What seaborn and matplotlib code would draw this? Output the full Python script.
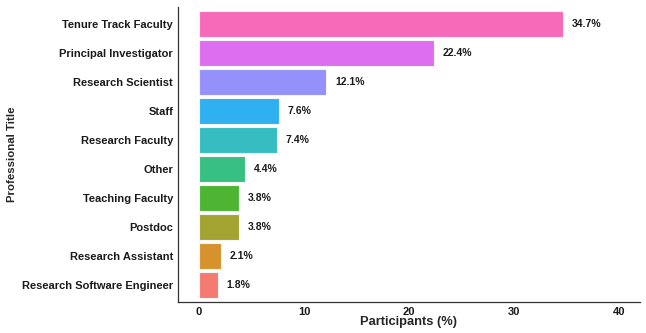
import pandas as pd
import matplotlib.pyplot as plt
import seaborn as sns

titles = ['Tenure Track Faculty', 'Principal Investigator', 'Research Scientist', 'Staff',
          'Research Faculty', 'Other', 'Teaching Faculty', 'Postdoc',
          'Research Assistant', 'Research Software Engineer']
percent = [34.7, 22.4, 12.1, 7.6, 7.4, 4.4, 3.8, 3.8, 2.1, 1.8]
# ggplot-style hue colours (slightly muted), top to bottom
colours = ['#F76AB9', '#DE6EF0', '#9490FC', '#2FB0F0', '#35BDC2',
           '#38BF82', '#4DB532', '#A3A331', '#D6922D', '#F47B72']

df = pd.DataFrame({'Title': titles, 'Percent': percent})

sns.set_style('white')
plt.rcParams['font.family'] = ['Liberation Sans', 'DejaVu Sans']

fig = plt.figure(figsize=(6.46, 3.33), dpi=100)
ax = fig.add_axes([0.2755, 0.093, 0.715, 0.886])
sns.barplot(data=df, y='Title', x='Percent', hue='Title', palette=colours,
            order=titles, width=0.9, edgecolor='#f4f4f4', linewidth=0.8,
            saturation=1, legend=False, ax=ax)

for i, v in enumerate(percent):
    ax.text(v + 0.85, i, f'{v:.1f}%', va='center', ha='left',
            fontsize=7.5, fontweight='bold', color='#1a1a1a')

ax.set_xlim(-2.0, 42.0)
ax.set_ylim(len(titles) - 0.4, -0.6)
ax.set_xticks([0, 10, 20, 30, 40])
ax.set_xlabel('Participants (%)', fontsize=9.3, fontweight='bold', labelpad=-1)
ax.set_ylabel('Professional Title', fontsize=8.2, fontweight='bold')
ax.yaxis.set_label_coords(-0.348, 0.5)
ax.tick_params(axis='both', length=2.5, width=0.8, color='#333333', pad=1,
               labelsize=8.0, labelcolor='#1a1a1a')
for lab in ax.get_xticklabels() + ax.get_yticklabels():
    lab.set_fontweight('bold')
sns.despine(ax=ax)
for s in ['left', 'bottom']:
    ax.spines[s].set_color('#333333')
    ax.spines[s].set_linewidth(0.9)

plt.savefig('out.png', dpi=100)
plt.close()
